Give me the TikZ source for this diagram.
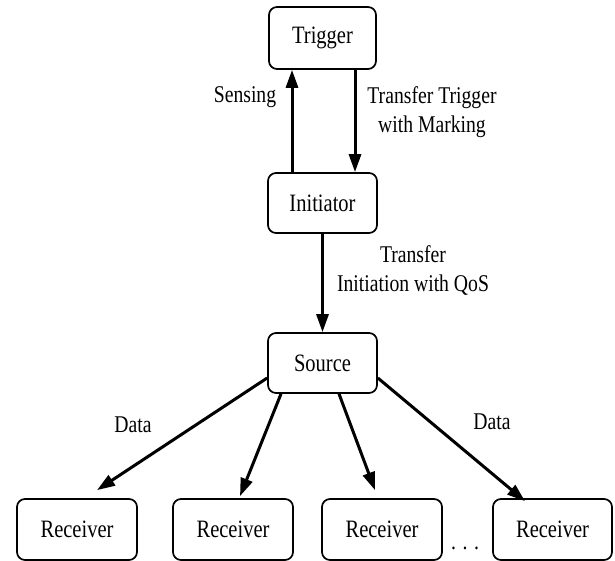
\documentclass[tikz,border=0pt]{standalone}
\usepackage{fontspec}
\setmainfont{Liberation Serif}[FakeStretch=0.82]
\usetikzlibrary{arrows.meta}
\begin{document}
\begin{tikzpicture}[x=1pt,y=-1pt,
  box/.style={draw,line width=1.7pt,rounded corners=8pt,inner sep=0pt,
    font=\fontsize{25}{30}\selectfont},
  lbl/.style={font=\fontsize{24}{29}\selectfont,align=center,inner sep=0pt},
  arr/.style={line width=3pt,-{Triangle[length=18pt,width=12pt]}}]
\useasboundingbox (0,0) rectangle (615,561);
\node[box,minimum width=107pt,minimum height=62pt] (trig) at (322.5,38) {Trigger};
\node[box,minimum width=109pt,minimum height=60pt] (ini) at (322.5,203) {Initiator};
\node[box,minimum width=109pt,minimum height=60pt] (src) at (322.5,363) {Source};
\node[box,minimum width=120pt,minimum height=61pt] (r1) at (77,529.5) {Receiver};
\node[box,minimum width=120pt,minimum height=61pt] (r2) at (233,529.5) {Receiver};
\node[box,minimum width=120pt,minimum height=61pt] (r3) at (382,529.5) {Receiver};
\node[box,minimum width=119pt,minimum height=61pt] (r4) at (552.5,529.5) {Receiver};
\draw[arr] ([xshift=-30.5pt]ini.north) -- ([xshift=-30.5pt]trig.south);
\draw[arr] ([xshift=32.5pt]trig.south) -- ([xshift=32.5pt]ini.north);
\draw[arr] (ini.south) -- (src.north);
\draw[arr] ([yshift=-15pt]src.west) -- ([xshift=20pt,yshift=8pt]r1.north);
\draw[arr] ([xshift=-41.5pt]src.south) -- ([xshift=7pt,yshift=2pt]r2.north);
\draw[arr] ([xshift=16.5pt]src.south) -- ([xshift=-7pt,yshift=8pt]r3.north);
\draw[arr] ([yshift=-15pt]src.east) -- ([xshift=-27.5pt,yshift=-3pt]r4.north);
\node[lbl] (ls) at (245,97) {Sensing};
\node[lbl] (lt) at (432,112) {Transfer Trigger\\with Marking};
\node[lbl] (li) at (413,270) {Transfer\\Initiation with QoS};
\node[lbl] (ld1) at (133,425) {Data};
\node[lbl] (ld2) at (492,422) {Data};
\node[lbl,anchor=base] (dots) at (465,549) {. . .};
\end{tikzpicture}
\end{document}
